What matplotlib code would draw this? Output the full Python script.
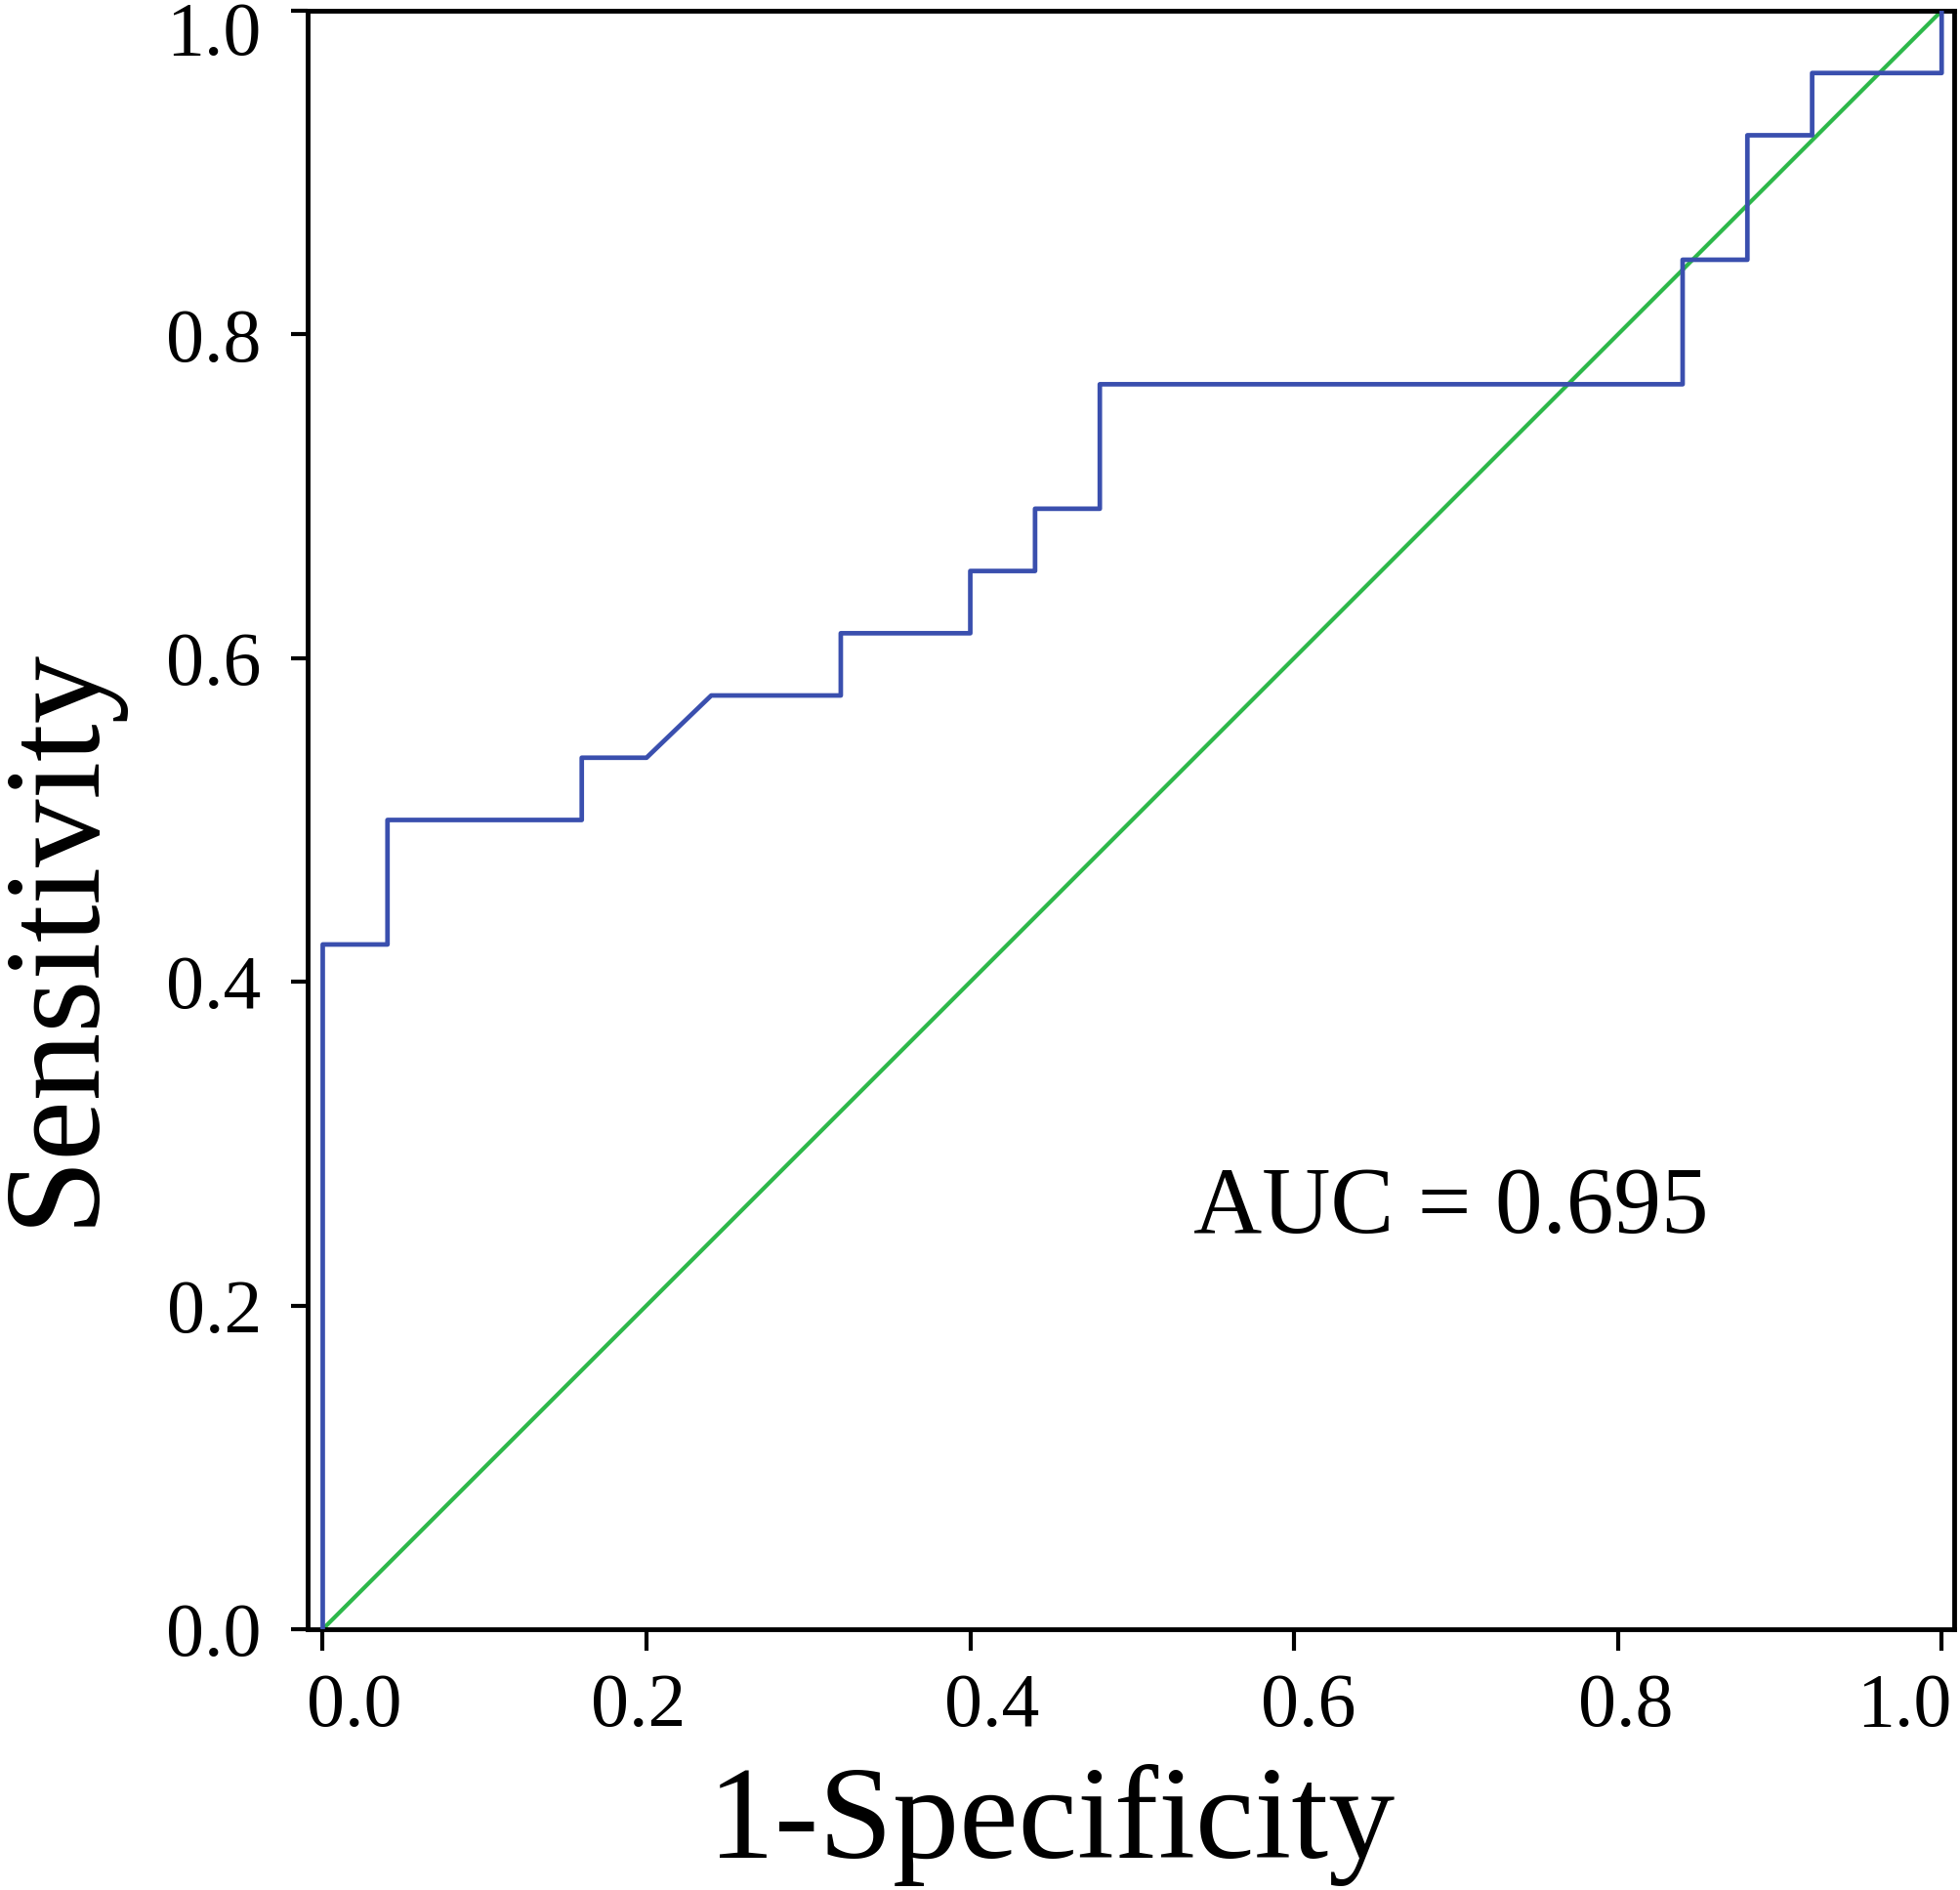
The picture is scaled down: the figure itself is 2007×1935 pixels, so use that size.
import matplotlib
matplotlib.use("Agg")
import matplotlib.pyplot as plt
import matplotlib.transforms as mtrans

# ROC curve points (1-Specificity, Sensitivity)
fpr = [0.00, 0.00, 0.04, 0.04, 0.16, 0.16, 0.20, 0.24, 0.32, 0.32, 0.40, 0.40,
       0.44, 0.44, 0.48, 0.48, 0.84, 0.84, 0.88, 0.88, 0.92, 0.92, 1.00, 1.00]
tpr = [0.0, 11/26, 11/26, 13/26, 13/26, 14/26, 14/26, 15/26, 15/26, 16/26, 16/26, 17/26,
       17/26, 18/26, 18/26, 20/26, 20/26, 22/26, 22/26, 24/26, 24/26, 25/26, 25/26, 1.0]
ref_x = [0.0, 1.0]
ref_y = [0.0, 1.0]
ticks = [0.0, 0.2, 0.4, 0.6, 0.8, 1.0]
tick_labels = ["0.0", "0.2", "0.4", "0.6", "0.8", "1.0"]
auc_text = "AUC = 0.695"

plt.rcParams['font.family'] = ['Liberation Serif', 'DejaVu Serif']

fig = plt.figure(figsize=(20.08, 19.35), dpi=100)
ax = fig.add_axes([0.1569, 0.138, 0.9965 - 0.1569, 0.9943 - 0.138])

ax.plot(ref_x, ref_y, color="#2db84a", lw=3.0, zorder=2)
ax.plot(fpr, tpr, color="#3a4fae", lw=3.4, zorder=3)

ax.set_xlim(-0.0093, 1.0077)
ax.set_ylim(0, 1)
ax.set_xticks(ticks)
ax.set_xticklabels(tick_labels)
ax.set_yticks(ticks)
ax.set_yticklabels(tick_labels)
ax.tick_params(axis='x', direction='out', length=16, width=3, labelsize=56, pad=16)
ax.tick_params(axis='y', direction='out', length=12, width=3, labelsize=56, pad=22)
for s in ax.spines.values():
    s.set_linewidth(3.5)
    s.set_color('black')

# small horizontal offsets of x tick labels as in the reference (pixels)
x_offsets = [32, -8, 22, 15, 8, -38]
for lab, dx in zip(ax.get_xticklabels(), x_offsets):
    lab.set_transform(lab.get_transform() + mtrans.ScaledTranslation(dx / 100, 0, fig.dpi_scale_trans))
ylabs = ax.get_yticklabels()
ylabs[-1].set_transform(ylabs[-1].get_transform() + mtrans.ScaledTranslation(0, -18 / 100, fig.dpi_scale_trans))

ax.text(0.538, 0.245, auc_text, fontsize=70, va='baseline', ha='left')

fig.text(0.536, 0.017, "1-Specificity", fontsize=98, ha='center', va='baseline')
fig.text(-0.002, 0.505, "Sensitivity", fontsize=100, rotation=90, ha='left', va='center')

fig.savefig("out.png", dpi=100)
